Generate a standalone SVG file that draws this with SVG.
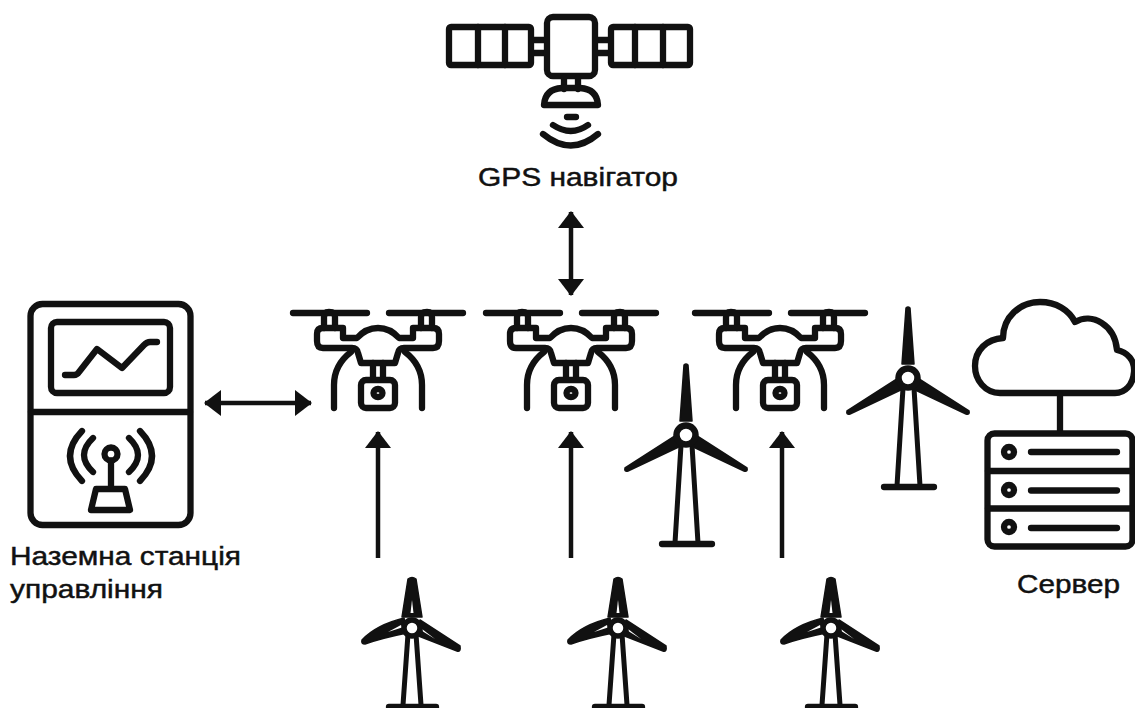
<svg xmlns="http://www.w3.org/2000/svg" xmlns:xlink="http://www.w3.org/1999/xlink" width="1135" height="708" viewBox="0 0 1135 708">
<style>
.s{fill:none;stroke:#111;stroke-width:6.300;stroke-linecap:round;stroke-linejoin:round}
.t{stroke-width:5}
.f{fill:#111;stroke:#111;stroke-width:1.500;stroke-linejoin:round}
.w{fill:#fff;stroke:none}
.l{font-family:"Liberation Sans",Arial,sans-serif;font-size:25px;fill:#111;stroke:#111;stroke-width:.45}
.c{fill:none;stroke:#111;stroke-width:4.500}
</style>
<defs>
<marker id="a" markerUnits="userSpaceOnUse" markerWidth="18" markerHeight="26" refX="16" refY="13" orient="auto-start-reverse"><path d="M0 0L17 13L0 26Z" fill="#111"/></marker>
<g id="drone">
<path class="s" d="M-85 18H-11M11 18H85"/>
<path class="s" d="M-54 33V22Q-54 17-49 17Q-43 17-43 22V33M43 33V22Q43 17 49 17Q54 17 54 22V33"/>
<path class="s" d="M-35 33H-55Q-61 33-61 39V46Q-61 53-55 53H-26Q-21 53-20 58L-17 68H17L20 58Q21 53 26 53H55Q61 53 61 46V39Q61 33 55 33H35V43H21Q12 33 0 33Q-12 33-21 43H-35Z"/>
<path class="s" d="M-27 57Q-44 70-44 90V113M27 57Q44 70 44 90V113"/>
<path class="s" d="M-5 68V84M5 68V84"/>
<rect class="s" x="-17" y="85" width="34" height="28" rx="5"/>
<ellipse class="s" cx="0" cy="98" rx="4.500" ry="4"/>
</g>
<g id="bigturbine">
<path class="f" d="M-2-70Q0-72 2-70L6-14H-6Z"/>
<path class="f" d="M-8 -1L-61 33Q-62 37-58 36L-1 9Z"/>
<path class="f" d="M8 -1L61 33Q62 37 58 36L1 9Z"/>
<path class="s t" d="M-5 10L-11 108M6 10L12 108"/>
<circle cx="0" cy="0" r="9.500" fill="#fff" stroke="#111" stroke-width="6.500"/>
<path class="s" d="M-24 109H26"/>
</g>
<g id="smallturbine">
<path class="f" d="M-4-49Q0-52 4-49L10-11H-10Z"/>
<path class="f" d="M-8-10Q-36-3-50 12Q-51 16-47 16Q-30 10-5 5Z"/>
<path class="f" d="M8-8L48 18Q49 24 45 23L4 7Z"/>
<path class="w" d="M-1.500-15L0-28L1.500-15Z"/>
<path class="w" d="M-11-3L-24 4L-10-0.500Z"/>
<path class="w" d="M10 1L23 11L11 3.500Z"/>
<path class="s t" d="M-4 6L-9 77M4 6L9 77"/>
<circle cx="0" cy="0" r="8" fill="#fff" stroke="#111" stroke-width="5.500"/>
<path class="s" d="M-23 79H24"/>
</g>
</defs>
<rect width="1135" height="708" fill="#fff"/>
<g id="connectors">
<path class="c" d="M571 212V295" marker-start="url(#a)" marker-end="url(#a)"/>
<path class="c" d="M205 403H311" marker-start="url(#a)" marker-end="url(#a)"/>
<path class="c" d="M378 558V432" marker-end="url(#a)"/>
<path class="c" d="M571 558V432" marker-end="url(#a)"/>
<path class="c" d="M782 558V432" marker-end="url(#a)"/>
</g>
<g id="gps">
<path class="s" d="M533 40H545M533 53H545M597 40H610M597 53H610"/>
<rect class="s" x="547" y="17" width="48" height="59" rx="6"/>
<rect class="s" x="449" y="27" width="82" height="38" rx="2"/>
<rect class="s" x="611" y="27" width="79" height="38" rx="2"/>
<path class="s" d="M478 27V65M505 27V65M635 27V65M663 27V65"/>
<path class="s" d="M564 78V89M578 78V89"/>
<path class="s" d="M544 105Q545 89 562 88H580Q597 89 598 105Z"/>
<path class="s" d="M567 117H576M553 125Q571 137 588 125M543 134Q571 157 598 134"/>
<text class="l" x="478" y="186" textLength="200" lengthAdjust="spacingAndGlyphs">GPS навігатор</text>
</g>
<g id="ground-station">
<rect class="s" x="30.500" y="304" width="160" height="221" rx="12"/>
<path class="s" d="M31 412H190"/>
<rect class="s" x="51" y="322" width="119" height="71" rx="6"/>
<path class="s" d="M65 375H74Q77 375 79 372L97 349L122 368L144 345Q147 342 150 342H157"/>
<circle class="s" cx="111" cy="454" r="6.500"/>
<path class="s" d="M111 461V489M96 489H125L130 510H91Z"/>
<path class="s" d="M93 438Q75 455 93 472M129 438Q147 455 129 472M82 431Q58 456 82 481M140 431Q164 456 140 481"/>
<text class="l" x="10" y="565" textLength="231" lengthAdjust="spacingAndGlyphs">Наземна станція</text>
<text class="l" x="10" y="598" textLength="153" lengthAdjust="spacingAndGlyphs">управління</text>
</g>
<use id="drone-1" href="#drone" transform="translate(378 295)"/>
<use id="drone-2" href="#drone" transform="translate(571 295)"/>
<use id="drone-3" href="#drone" transform="translate(780 295)"/>
<use id="turbine-1" href="#bigturbine" transform="translate(686 435)"/>
<use id="turbine-2" href="#bigturbine" transform="translate(908 378)"/>
<use id="turbine-3" href="#smallturbine" transform="translate(412 628)"/>
<use id="turbine-4" href="#smallturbine" transform="translate(618 628)"/>
<use id="turbine-5" href="#smallturbine" transform="translate(831 628)"/>
<g id="server">
<path class="s" d="M1000 393C985 393 975 380 975 366C975 350 987 339 1003 338C1003 317 1020 302 1040 302C1056 302 1069 310 1075 322C1092 312 1115 325 1117 350C1127 352 1135 360 1134 372C1133 385 1125 393 1115 393Z"/>
<path class="s" d="M1060 395V431"/>
<rect class="s" x="987.500" y="433.500" width="145" height="113" rx="7"/>
<path class="s" d="M988 471H1132M988 508.500H1132"/>
<circle class="s" cx="1009" cy="452" r="5"/>
<circle class="s" cx="1009" cy="490" r="5"/>
<circle class="s" cx="1009" cy="527" r="5"/>
<path class="s" d="M1031 452H1117M1031 490.500H1117M1031 528H1117"/>
<text class="l" x="1017" y="593" textLength="103" lengthAdjust="spacingAndGlyphs">Сервер</text>
</g>
</svg>
